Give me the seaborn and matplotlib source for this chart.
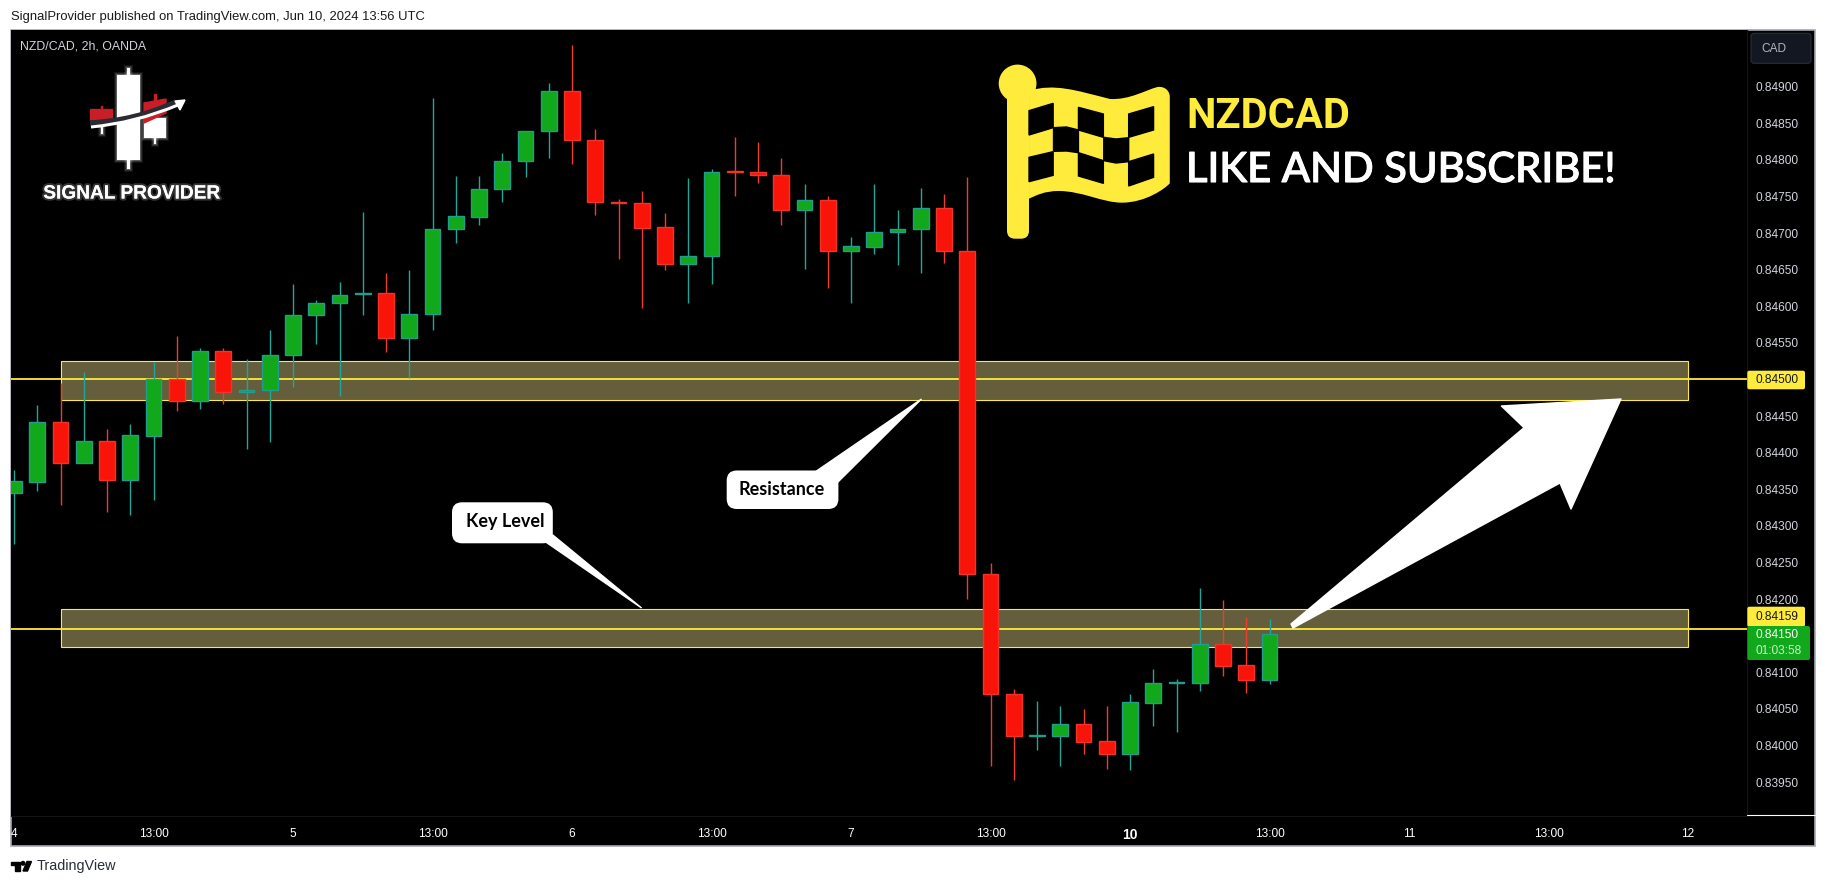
import matplotlib
matplotlib.use("Agg")
import matplotlib.pyplot as plt
import matplotlib.patheffects as pe
from matplotlib.patches import Rectangle, Polygon, Circle, FancyBboxPatch, PathPatch
from matplotlib.path import Path
import pandas as pd
import seaborn as sns

# ── Data (prices in 1e-5 units, 2h bars) ─────────────────────
open_pts = [84345, 84360, 84442, 84386, 84416, 84363, 84423, 84500, 84471, 84539, 84483,
            84485, 84534, 84588, 84605, 84617, 84618, 84557, 84589, 84705, 84722, 84760,
            84798, 84840, 84894, 84827, 84742, 84741, 84708, 84658, 84668, 84785, 84783,
            84780, 84732, 84745, 84676, 84681, 84702, 84705, 84734, 84675, 84234, 84071,
            84013, 84013, 84030, 84006, 83989, 84058, 84086, 84086, 84138, 84110, 84090]
high_pts = [84376, 84465, 84495, 84510, 84433, 84439, 84524, 84559, 84543, 84543, 84528,
            84568, 84630, 84609, 84633, 84729, 84646, 84650, 84885, 84778, 84778, 84810,
            84840, 84905, 84957, 84842, 84747, 84758, 84727, 84775, 84788, 84831, 84824,
            84803, 84767, 84751, 84695, 84767, 84732, 84762, 84753, 84777, 84249, 84077,
            84061, 84054, 84050, 84054, 84070, 84105, 84091, 84215, 84199, 84176, 84173]
low_pts = [84275, 84348, 84328, 84386, 84319, 84315, 84336, 84457, 84459, 84466, 84405,
           84414, 84490, 84548, 84477, 84588, 84538, 84502, 84567, 84686, 84711, 84743,
           84777, 84802, 84795, 84725, 84665, 84597, 84650, 84604, 84630, 84750, 84769,
           84711, 84651, 84625, 84604, 84672, 84657, 84645, 84659, 84200, 83972, 83953,
           83994, 83972, 83989, 83968, 83967, 84027, 84018, 84074, 84095, 84072, 84084]
close_pts = [84361, 84442, 84386, 84416, 84363, 84424, 84500, 84471, 84539, 84483, 84485,
             84534, 84588, 84605, 84616, 84618, 84557, 84589, 84705, 84723, 84760, 84798,
             84840, 84894, 84827, 84742, 84741, 84707, 84658, 84668, 84784, 84783, 84780,
             84732, 84745, 84676, 84682, 84702, 84705, 84734, 84675, 84234, 84071, 84013,
             84014, 84030, 84005, 83989, 84059, 84086, 84087, 84138, 84109, 84090, 84152]

band_upper = [84472, 84525]
band_lower = [84135, 84187]
level_upper = 84500
level_lower = 84159
last_price = 84150
band_start_bar = 2
band_end_bar = 72

time_ticks = [0, 6, 12, 18, 24, 30, 36, 42, 48, 54, 60, 66, 72]
time_labels = ["4", "13:00", "5", "13:00", "6", "13:00", "7", "13:00",
               "10", "13:00", "11", "13:00", "12"]
price_ticks = [83950, 84000, 84050, 84100, 84200, 84250, 84300, 84350, 84400, 84450,
               84550, 84600, 84650, 84700, 84750, 84800, 84850, 84900]

# ── Colours ──────────────────────────────────────────────────
GREEN = "#12a81b"
GREEN_EDGE = "#1f9e8c"
GREEN_WICK = "#22a699"
RED = "#f9140a"
RED_EDGE = "#f0342a"
RED_WICK = "#ef3b30"
YELLOW = "#ffeb3b"
BAND = "#645e3c"
AXIS_TXT = "#d1d4dc"

W, H = 1826, 886
sns.set_style("dark", rc={"axes.grid": False})
plt.rcParams["font.family"] = ["Liberation Sans", "DejaVu Sans"]

fig = plt.figure(figsize=(W / 100, H / 100), dpi=100, facecolor="white")

# background panel
bg = fig.add_axes([0, 0, 1, 1], zorder=0)
bg.set_xlim(0, W)
bg.set_ylim(H, 0)
bg.axis("off")
bg.add_patch(Rectangle((11, 30), 1804, 816, facecolor="black", edgecolor="#a5a8b0", lw=1.2))

# main pane, pixel box 11..1747 x 30..816
PX_LEFT, PX_RIGHT, PX_TOP, PX_BOTTOM = 11, 1747, 30, 816
ax = fig.add_axes([PX_LEFT / W, 1 - PX_BOTTOM / H, (PX_RIGHT - PX_LEFT) / W, (PX_BOTTOM - PX_TOP) / H],
                  zorder=1)
ax.set_facecolor("black")

df = pd.DataFrame({"bar": range(len(open_pts)), "open": open_pts, "high": high_pts,
                   "low": low_pts, "close": close_pts})
df[["open", "high", "low", "close"]] /= 1e5
df["dir"] = ["up" if c >= o else "down" for o, c in zip(df["open"], df["close"])]
df["body_low"] = df[["open", "close"]].min(axis=1)
df["body_size"] = (df["close"] - df["open"]).abs()

# zones and levels, under the candles
for (lo, hi) in (band_upper, band_lower):
    ax.add_patch(Rectangle((band_start_bar, lo / 1e5), band_end_bar - band_start_bar, (hi - lo) / 1e5,
                           facecolor=BAND, edgecolor=YELLOW, lw=0.8, zorder=1))
ax.axhline(level_upper / 1e5, color=YELLOW, lw=1.3, zorder=1.5)
ax.axhline(level_lower / 1e5, color=YELLOW, lw=1.3, zorder=1.5)

# wicks
wicks = df.melt(id_vars=["bar", "dir"], value_vars=["low", "high"], value_name="price")
sns.lineplot(data=wicks, x="bar", y="price", units="bar", estimator=None, hue="dir",
             palette={"up": GREEN_WICK, "down": RED_WICK}, lw=1.0, legend=False, ax=ax,
             zorder=2, solid_capstyle="butt")

# bodies
for key, fill, edge in (("up", GREEN, GREEN_EDGE), ("down", RED, RED_EDGE)):
    sub = df[df["dir"] == key]
    sns.barplot(data=sub, x="bar", y="body_size", bottom=sub["body_low"].values, native_scale=True,
                width=0.68, color=fill, saturation=1, errorbar=None, ax=ax, zorder=3,
                edgecolor=edge, linewidth=1.0)

# scales: bar i sits at pixel 14 + 23.25 i, price p at 85018.4 - 1.3661 y
ax.set_xlim((PX_LEFT - 14) / 23.25, (PX_RIGHT - 14) / 23.25)
ax.set_ylim((85018.4 - 1.3661 * PX_BOTTOM) / 1e5, (85018.4 - 1.3661 * PX_TOP) / 1e5)
ax.set_xlabel("")
ax.set_ylabel("")
ax.set_xticks(time_ticks)
ax.set_xticklabels(time_labels, color="white", fontsize=8.6)
ax.get_xticklabels()[8].set_fontweight("bold")
ax.get_xticklabels()[8].set_fontsize(10)
ax.yaxis.tick_right()
ax.set_yticks([p / 1e5 for p in price_ticks])
ax.set_yticklabels([f"{p / 1e5:.5f}" for p in price_ticks], color=AXIS_TXT, fontsize=8.6)
ax.tick_params(axis="x", length=0, pad=8.5)
ax.tick_params(axis="y", length=0, pad=6.3)
for side, sp in ax.spines.items():
    sp.set_visible(side in ("right", "bottom"))
    sp.set_color("#141414")
    sp.set_linewidth(0.8)

# ── Overlay in pixel coordinates ─────────────────────────────
ov = fig.add_axes([0, 0, 1, 1], zorder=2)
ov.set_xlim(0, W)
ov.set_ylim(H, 0)
ov.axis("off")
ov.patch.set_alpha(0)

# header, footer
ov.text(11, 16.7, "SignalProvider published on TradingView.com, Jun 10, 2024 13:56 UTC",
        fontsize=9.4, color="#1a1a1a", va="center")
ov.text(36.5, 866, "TradingView", fontsize=10.4, color="#2a2e39", va="center")
ov.add_patch(Polygon([(11, 861.5), (20, 861.5), (20, 871), (15, 871), (15, 865), (11, 865)], color="black"))
ov.add_patch(Circle((23, 863.3), 1.8, color="black"))
ov.add_patch(Polygon([(27, 861.5), (31.5, 861.5), (27.5, 871), (23, 871)], color="black"))
ov.text(20, 46.7, "NZD/CAD, 2h, OANDA", fontsize=8.9, color=AXIS_TXT, va="center")

# logo
logo_rects = [(127.3, 67.7, 2.8, 101), (117.4, 75, 22.6, 85.3), (154.2, 112, 2, 32.3),
              (144, 118, 22, 20.3), (100.5, 120, 2, 14)]
for grow, alpha in ((3, 0.08), (2, 0.12), (1, 0.22), (0, 1)):
    for (x0, y0, w, h) in logo_rects:
        ov.add_patch(Rectangle((x0 - grow, y0 - grow), w + 2 * grow, h + 2 * grow,
                               facecolor="white", edgecolor="none", alpha=alpha))
ov.add_patch(Polygon([(144, 103), (166, 99), (166, 113), (144, 123)], color="#c81e28"))
ov.add_patch(Rectangle((154.2, 94.3), 2, 8, color="#c81e28"))
ov.add_patch(Polygon([(90.5, 109.5), (112.7, 109.5), (112.7, 118), (90.5, 121)], color="#c81e28"))
ov.add_patch(Rectangle((100.8, 106), 1.6, 4, color="#c81e28"))
ov.add_patch(PathPatch(Path([(90, 123), (135, 121), (176, 102)], [Path.MOVETO, Path.CURVE3, Path.CURVE3]),
                       fc="none", ec="#2b2b33", lw=4))
ov.add_patch(PathPatch(Path([(91, 127), (135, 123), (178, 105)], [Path.MOVETO, Path.CURVE3, Path.CURVE3]),
                       fc="none", ec="white", lw=2.2))
ov.add_patch(Polygon([(185, 100), (175, 101), (180, 110)], color="white"))
ov.text(131.5, 194, "SIGNAL PROVIDER", fontsize=13.75, fontweight="bold", color="white",
        ha="center", va="center",
        path_effects=[pe.withStroke(linewidth=3, foreground="white", alpha=0.2), pe.Normal()])


def flag_pts(pts):
    return [(600 + x / 2.529, y / 3) for x, y in pts]


ov.add_patch(Circle((1017.6, 83.5), 18.2, color=YELLOW))
ov.add_patch(FancyBboxPatch((1007, 90), 22, 148.7, boxstyle="round,pad=0,rounding_size=8",
                            facecolor=YELLOW, edgecolor="none"))
outline = [(1085, 272), (1150, 250), (1200, 270), (1290, 297), (1340, 300), (1380, 270), (1410, 261),
           (1430, 258), (1441, 275), (1441, 290), (1441, 550), (1430, 565), (1380, 608), (1320, 608),
           (1270, 608), (1220, 573), (1160, 573), (1125, 573), (1105, 585), (1085, 596), (1085, 272)]
outline_codes = [Path.MOVETO] + [Path.CURVE4] * 9 + [Path.LINETO] + [Path.CURVE4] * 9 + [Path.CLOSEPOLY]
ov.add_patch(PathPatch(Path(flag_pts(outline), outline_codes), facecolor=YELLOW, edgecolor="none"))
flag_cells = [
    [(1085, 332), (1146, 310), (1146, 383), (1085, 405)],
    [(1210, 322), (1273, 342), (1273, 412), (1210, 390)],
    [(1337, 342), (1400, 320), (1400, 390), (1337, 412)],
    [(1147, 383), (1180, 381), (1210, 390), (1210, 458), (1180, 453), (1147, 454)],
    [(1274, 412), (1305, 417), (1337, 413), (1337, 485), (1305, 489), (1274, 482)],
    [(1085, 472), (1146, 455), (1146, 526), (1085, 545)],
    [(1210, 458), (1273, 482), (1273, 550), (1210, 528)],
    [(1337, 485), (1400, 462), (1400, 532), (1337, 558)],
]
for cell in flag_cells:
    ov.add_patch(Polygon(flag_pts(cell), color="black"))

ov.text(1186, 116, "NZDCAD", fontsize=30, fontweight="bold", family="Roboto", color=YELLOW, va="center")
ov.text(1186, 170, "LIKE AND SUBSCRIBE!", fontsize=30, fontweight="medium", family="Lato",
        color="white", va="center",
        path_effects=[pe.withStroke(linewidth=0.8, foreground="white"), pe.Normal()])

# callouts
ov.add_patch(FancyBboxPatch((726.7, 470.5), 111.7, 38.5, boxstyle="round,pad=0,rounding_size=10",
                            facecolor="white", edgecolor="none"))
ov.add_patch(Polygon([(815, 472), (838, 482), (921.5, 399)], color="white"))
ov.text(782, 489.5, "Resistance", fontsize=13, fontweight="bold", family="Lato", color="black",
        ha="center", va="center")
ov.add_patch(FancyBboxPatch((452, 502.3), 100.8, 41, boxstyle="round,pad=0,rounding_size=10",
                            facecolor="white", edgecolor="none"))
ov.add_patch(Polygon([(545.7, 542), (552.8, 535), (641.6, 608)], color="white"))
ov.text(505, 522, "Key Level", fontsize=13, fontweight="bold", family="Lato", color="black",
        ha="center", va="center")

# big arrow
ov.add_patch(Polygon([(1291, 624), (1293, 628), (1560, 483), (1571, 509), (1621, 399),
                      (1501.4, 406), (1524, 427.7)], facecolor="white", edgecolor="white",
                     lw=1, joinstyle="round"))

# price axis widgets
ov.add_patch(FancyBboxPatch((1751, 33.3), 60, 30, boxstyle="round,pad=0,rounding_size=3",
                            facecolor="#131722", edgecolor="#2a2e39", lw=0.8))
ov.text(1761.7, 48.7, "CAD", fontsize=8.6, color="#b2b5be", va="center")
ov.plot([1747, 1815], [815, 815], color="white", lw=0.8)
ov.add_patch(FancyBboxPatch((1747.3, 370.7), 57.7, 18.6, boxstyle="round,pad=0,rounding_size=2",
                            facecolor=YELLOW, edgecolor="none"))
ov.text(1755.7, 380, f"{level_upper / 1e5:.5f}", fontsize=8.6, color="#131722", va="center")
ov.add_patch(FancyBboxPatch((1747.3, 606.7), 57.7, 20, boxstyle="round,pad=0,rounding_size=2",
                            facecolor=YELLOW, edgecolor="none"))
ov.text(1755.7, 616.5, f"{level_lower / 1e5:.5f}", fontsize=8.6, color="#131722", va="center")
ov.add_patch(FancyBboxPatch((1747.3, 626), 62.7, 34, boxstyle="round,pad=0,rounding_size=2",
                            facecolor=GREEN, edgecolor="none"))
ov.text(1755.7, 635.5, f"{last_price / 1e5:.5f}", fontsize=8.6, color="white", va="center")
ov.text(1755.7, 650.5, "01:03:58", fontsize=8.6, color="#c8f0c8", va="center")

fig.savefig("out.png", dpi=100)
